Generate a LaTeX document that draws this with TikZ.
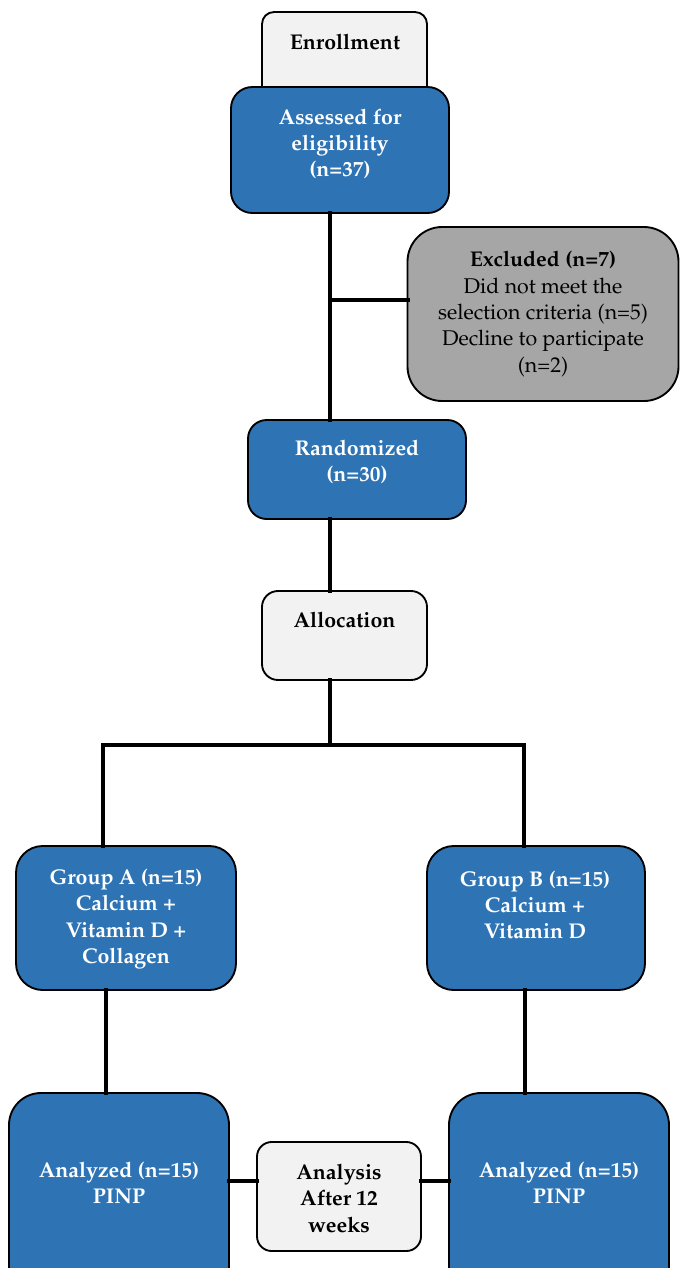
\documentclass[tikz,border=0pt]{standalone}
\usepackage[T1]{fontenc}
\usepackage{mathpazo}
\definecolor{bluebox}{HTML}{2E74B5}
\definecolor{graybox}{HTML}{A6A6A6}
\definecolor{lightbox}{HTML}{F2F2F2}
\begin{document}
\begin{tikzpicture}[x=0.75pt,y=-0.75pt,
  box/.style={draw=black,line width=1.4pt,inner sep=0pt,outer sep=0pt},
  bluestyle/.style={box,fill=bluebox},
  graystyle/.style={box,fill=graybox},
  lightstyle/.style={box,fill=lightbox},
  txt/.style={align=center,font=\fontsize{16}{19.8}\selectfont,inner sep=0pt},
  wtxt/.style={txt,text=white,font=\fontsize{16}{19.8}\selectfont\bfseries},
  btxt/.style={txt,font=\fontsize{16}{19.8}\selectfont\bfseries},
  conn/.style={line width=3.4pt,line cap=rect}]
\useasboundingbox (0,0) rectangle (680,1268);
\clip (0,0) rectangle (680,1268);
% boxes
\node[lightstyle,rounded corners=9pt,minimum width=165*0.75pt,minimum height=88*0.75pt] (enr) at (344.5,56) {};
\node[bluestyle,rounded corners=16pt,minimum width=218*0.75pt,minimum height=126*0.75pt] (ass) at (340,150) {};
\node[graystyle,rounded corners=26pt,minimum width=271*0.75pt,minimum height=174*0.75pt] (exc) at (543,314) {};
\node[bluestyle,rounded corners=14pt,minimum width=218*0.75pt,minimum height=99*0.75pt] (ran) at (357,469.5) {};
\node[lightstyle,rounded corners=12pt,minimum width=165*0.75pt,minimum height=89*0.75pt] (all) at (344.5,635.5) {};
\node[bluestyle,rounded corners=20pt,minimum width=220*0.75pt,minimum height=144*0.75pt] (ga) at (126,918) {};
\node[bluestyle,rounded corners=20pt,minimum width=218*0.75pt,minimum height=144*0.75pt] (gb) at (536,918) {};
\node[bluestyle,rounded corners=24pt,minimum width=220*0.75pt,minimum height=220*0.75pt] (aa) at (119,1203) {};
\node[bluestyle,rounded corners=24pt,minimum width=220*0.75pt,minimum height=220*0.75pt] (ab) at (559,1203) {};
\node[lightstyle,rounded corners=11pt,minimum width=164*0.75pt,minimum height=109*0.75pt] (ana) at (339,1196.5) {};
% texts
\node[btxt] (tenr) at (345,42) {Enrollment};
\node[wtxt] (tass) at (340,144) {Assessed for\\eligibility\\(n=37)};
\node[txt] (texc) at (543,314) {\textbf{Excluded (n=7)}\\Did not meet the\\selection criteria (n=5)\\Decline to participate\\(n=2)};
\node[wtxt] (tran) at (357,462) {Randomized\\(n=30)};
\node[btxt] (tall) at (344.5,620) {Allocation};
\node[wtxt] (tga) at (126,919) {Group A (n=15)\\Calcium +\\Vitamin D +\\Collagen};
\node[wtxt] (tgb) at (535,905) {Group B (n=15)\\Calcium +\\Vitamin D};
\node[wtxt] (taa) at (119,1183) {Analyzed (n=15)\\PINP};
\node[wtxt] (tab) at (559,1183) {Analyzed (n=15)\\PINP};
\node[btxt] (tana) at (339,1198) {Analysis\\After 12\\weeks};
% connector coordinates
\coordinate (spine) at (330,0);
\coordinate (excj) at (330,300);
\coordinate (split) at (330,745);
\coordinate (splitl) at (103,745);
\coordinate (splitr) at (524,745);
\coordinate (lnA) at (106,0);
\coordinate (lnB) at (525,0);
\coordinate (hy) at (0,1181);
% connectors
\draw[conn] (ass.south -| spine) -- (ran.north -| spine);
\draw[conn] (excj) -- (exc.west |- excj);
\draw[conn] (ran.south -| spine) -- (all.north -| spine);
\draw[conn] (all.south -| spine) -- (split);
\draw[conn] (splitl) -- (splitr);
\draw[conn] (splitl) -- (ga.north -| splitl);
\draw[conn] (splitr) -- (gb.north -| splitr);
\draw[conn] (ga.south -| lnA) -- (aa.north -| lnA);
\draw[conn] (gb.south -| lnB) -- (ab.north -| lnB);
\draw[conn] (aa.east |- hy) -- (ana.west |- hy);
\draw[conn] (ana.east |- hy) -- (ab.west |- hy);
\end{tikzpicture}
\end{document}
